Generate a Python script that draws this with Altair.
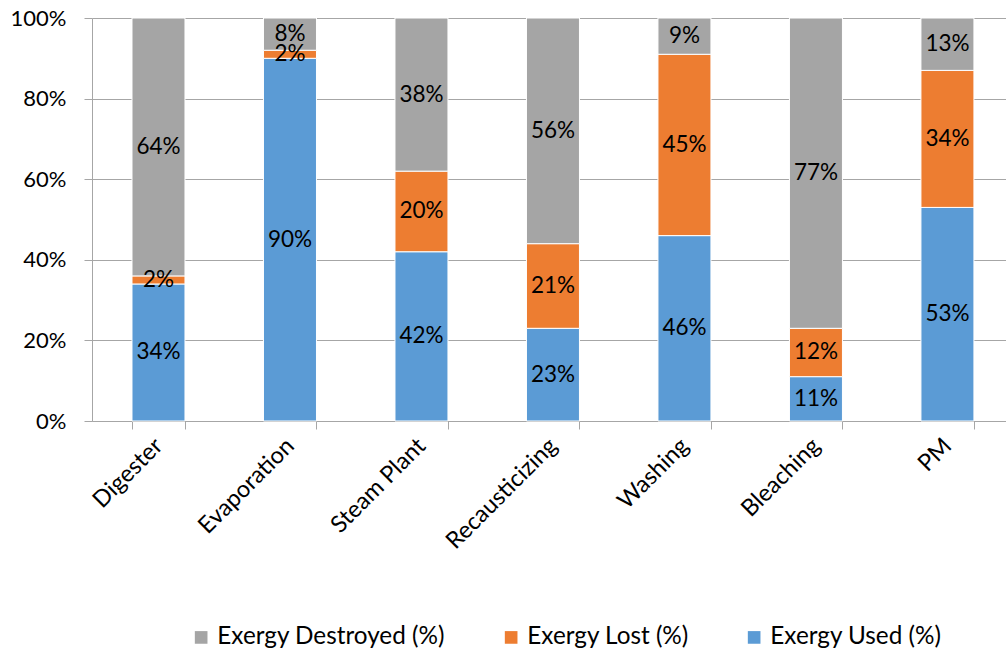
import altair as alt
import pandas as pd

# Exergy breakdown per mill area (percent of input exergy)
areas = ["Digester", "Evaporation", "Steam Plant", "Recausticizing",
         "Washing", "Bleaching", "PM"]
exergy_used = [34, 90, 42, 23, 46, 11, 53]
exergy_lost = [2, 2, 20, 21, 45, 12, 34]
exergy_destroyed = [64, 8, 38, 56, 9, 77, 13]

series_names = ["Exergy Destroyed (%)", "Exergy Lost (%)", "Exergy Used (%)"]
series_colors = ["#A5A5A5", "#ED7D31", "#5B9BD5"]

rows = []
for i, area in enumerate(areas):
    rows.append({"area": area, "series": "Exergy Used (%)", "value": exergy_used[i], "ord": 0})
    rows.append({"area": area, "series": "Exergy Lost (%)", "value": exergy_lost[i], "ord": 1})
    rows.append({"area": area, "series": "Exergy Destroyed (%)", "value": exergy_destroyed[i], "ord": 2})
df = pd.DataFrame(rows)

FONT = "Lato"
GRID = "#A6A6A6"

base = alt.Chart(df).transform_stack(
    stack="value",
    groupby=["area"],
    sort=[alt.SortField("ord", order="ascending")],
    as_=["y0", "y1"],
).transform_calculate(
    mid="(datum.y0 + datum.y1) / 2"
)

x_enc = alt.X(
    "area:N",
    sort=areas,
    scale=alt.Scale(paddingInner=0.597, paddingOuter=0.274, align=0.555),
    axis=alt.Axis(
        title=None,
        labelAngle=-45,
        labelAlign="right",
        labelBaseline="middle",
        labelFontSize=23.5,
        labelFont=FONT,
        labelColor="#000000",
        labelPadding=13,
        labelLimit=0,
        tickBand="extent",
        tickSize=8,
        tickColor=GRID,
        domainColor=GRID,
        grid=False,
    ),
)

bars = base.mark_bar(stroke="white", strokeWidth=1).encode(
    x=x_enc,
    y=alt.Y(
        "y0:Q",
        scale=alt.Scale(domain=[0, 100], nice=False),
        axis=alt.Axis(
            title=None,
            values=[0, 20, 40, 60, 80, 100],
            labelExpr="datum.value + '%'",
            labelFontSize=22,
            labelFont=FONT,
            labelColor="#000000",
            labelPadding=18,
            tickSize=8,
            tickColor=GRID,
            domainColor=GRID,
            gridColor=GRID,
            gridWidth=1,
        ),
    ),
    y2="y1:Q",
    color=alt.Color(
        "series:N",
        scale=alt.Scale(domain=series_names, range=series_colors),
        legend=alt.Legend(
            title=None,
            orient="none",
            direction="horizontal",
            legendX=97,
            legendY=607,
            symbolType="square",
            symbolSize=160,
            symbolStrokeWidth=0,
            labelFontSize=24.3,
            labelFont=FONT,
            labelColor="#000000",
            labelOffset=4,
            labelLimit=0,
            columnPadding=53,
        ),
    ),
    order=alt.Order("ord:Q"),
)

labels = base.mark_text(fontSize=22.5, font=FONT, color="#000000", baseline="middle").encode(
    x=alt.X("area:N", sort=areas),
    y=alt.Y("mid:Q"),
    text=alt.Text("label:N"),
).transform_calculate(label="datum.value + '%'")

chart = alt.layer(bars, labels).properties(
    width=914,
    height=403,
    autosize=alt.AutoSizeParams(type="none"),
    padding={"left": 92, "top": 18, "right": 0, "bottom": 233},
).configure_view(stroke=None)

chart.save("out.html", embed_options={"renderer": "svg", "actions": False})
